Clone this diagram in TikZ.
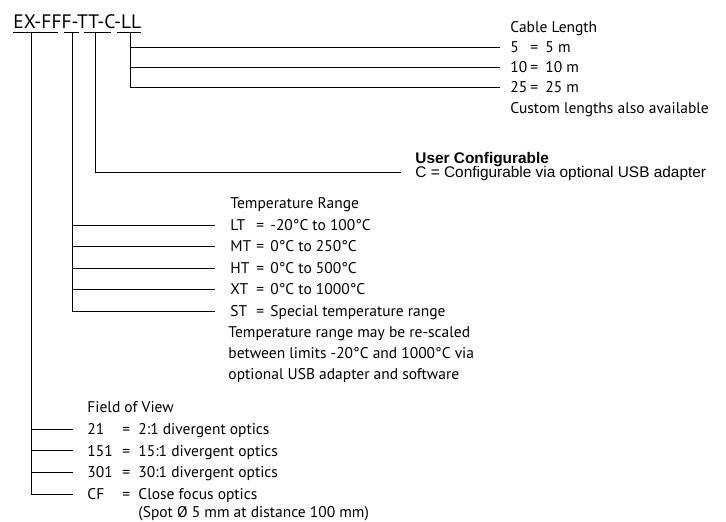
\documentclass[tikz,border=0pt]{standalone}
\usepackage{fontspec}
\setmainfont{PT Sans}
\newfontfamily\helv{Liberation Sans}
\usetikzlibrary{positioning}

\begin{document}
\begin{tikzpicture}[x=1pt, y=-1pt, line width=0.9pt,
    row/.style={anchor=west, inner sep=0pt, text height=10.6pt, text depth=0pt,
      font=\fontsize{15.5}{18}\selectfont},
    helvrow/.style={row, font=\fontsize{15.4}{18}\helv}]
  \useasboundingbox (0,0) rectangle (726,522);
  % order code and its underlines
  \node[anchor=base west, inner sep=0pt, font=\fontsize{19.5}{22}\selectfont] (code) at (13,28) {EX-FFF-TT-C-LL};
  \draw (13,32) -- (58,32) (64,32) -- (79,32) (84,32) -- (111,32) (117,32) -- (141,32);
  \coordinate (fov) at (31,32);
  \coordinate (temp) at (72,32);
  \coordinate (usr) at (95,32);
  \coordinate (len) at (130,32);

  % cable length
  \node[row] (lenhead) at (510,27.5) {Cable Length};
  \foreach \k/\v [count=\i] in {5/5 m, 10/10 m, 25/25 m} {
    \coordinate (len\i) at (500,{47+20.3*(\i-1)});
    \node[row, right=10pt of len\i] (lenrow\i) {\makebox[20pt][l]{\k}\makebox[15pt][l]{=}\v};
    \draw (len) |- (len\i);
  }
  \node[row] (lennote) at (510,108.5) {Custom lengths also available};

  % user configurable
  \node[helvrow, font=\fontsize{15.4}{18}\helv\bfseries] (usrhead) at (415,158) {User Configurable};
  \coordinate (usr1) at (401,172.5);
  \node[helvrow, right=14pt of usr1] (usrrow) {C = Configurable via optional USB adapter};
  \draw (usr) |- (usr1);

  % temperature range
  \node[row] (temphead) at (230,203) {Temperature Range};
  \foreach \k/\v [count=\i] in {LT/-20°C to 100°C, MT/0°C to 250°C, HT/0°C to 500°C,
      XT/0°C to 1000°C, ST/Special temperature range} {
    \coordinate (temp\i) at (215,{225+21.5*(\i-1)});
    \node[row, right=15pt of temp\i] (temprow\i) {\makebox[26pt][l]{\k}\makebox[14pt][l]{=}\v};
    \draw (temp) |- (temp\i);
  }
  \foreach \t [count=\i] in {Temperature range may be re-scaled,
      between limits -20°C and 1000°C via, optional USB adapter and software} {
    \node[row] (tempnote\i) at (228,{332.5+21*(\i-1)}) {\t};
  }

  % field of view
  \node[row] (fovhead) at (87,407.5) {Field of View};
  \foreach \k/\v [count=\i] in {21/2:1 divergent optics, 151/15:1 divergent optics,
      301/30:1 divergent optics, CF/Close focus optics} {
    \coordinate (fov\i) at (73,{429+21.7*(\i-1)});
    \node[row, right=14pt of fov\i] (fovrow\i) {\makebox[35pt][l]{\k}\makebox[16pt][l]{=}\v};
    \draw (fov) |- (fov\i);
  }
  \node[row] (fovnote) at (138,512) {(Spot Ø 5 mm at distance 100 mm)};
\end{tikzpicture}
\end{document}
